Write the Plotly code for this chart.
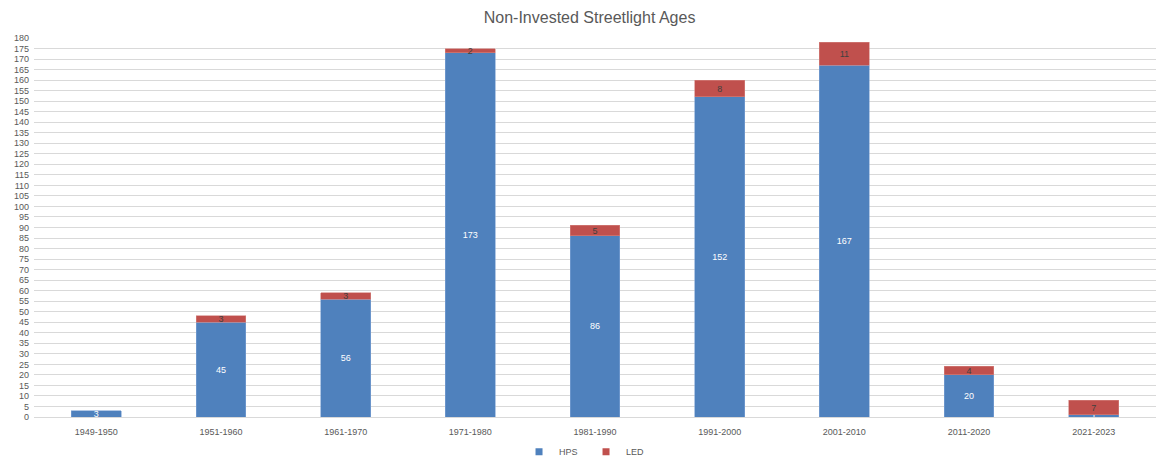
import plotly.graph_objects as go

categories = ["1949-1950", "1951-1960", "1961-1970", "1971-1980", "1981-1990",
              "1991-2000", "2001-2010", "2011-2020", "2021-2023"]
hps = [3, 45, 56, 173, 86, 152, 167, 20, 1]
led = [0, 3, 3, 2, 5, 8, 11, 4, 7]
y_ticks = list(range(0, 181, 5))

FONT = "Liberation Sans"
GRAY = "#595959"
BLUE = "#4F81BD"
RED = "#C0504D"

fig = go.Figure()
fig.add_trace(go.Bar(
    name="HPS", x=categories, y=hps, showlegend=False,
    marker=dict(color=BLUE, line=dict(color="#7FA3D4",
                                      width=[0.6 if v else 0 for v in hps])),
    text=[str(v) if v else "" for v in hps],
    textposition="inside", insidetextanchor="middle", textangle=0,
    textfont=dict(color="white", size=9, family=FONT),
    width=0.4,
))
fig.add_trace(go.Bar(
    name="LED", x=categories, y=led, showlegend=False,
    marker=dict(color=RED, line=dict(color="#D48381",
                                     width=[0.6 if v else 0 for v in led])),
    text=[str(v) if v else "" for v in led],
    textposition="inside", insidetextanchor="middle", textangle=0,
    textfont=dict(color="#404040", size=9, family=FONT),
    width=0.4,
))
# legend entries with small square swatches
for name, col in [("HPS", BLUE), ("LED", RED)]:
    fig.add_trace(go.Scatter(
        name=name, x=[None], y=[None], mode="markers",
        marker=dict(symbol="square", size=7, color=col),
        showlegend=True,
    ))

fig.update_layout(
    barmode="stack",
    width=1156, height=459,
    margin=dict(l=34, r=0, t=38, b=42, autoexpand=False),
    paper_bgcolor="white", plot_bgcolor="white",
    title=dict(text="Non-Invested Streetlight Ages", x=0.51, xanchor="center",
               y=0.963, yanchor="middle",
               font=dict(family=FONT, size=16, color=GRAY)),
    font=dict(family=FONT, size=9, color=GRAY),
    uniformtext=dict(minsize=9, mode="show"),
    showlegend=True,
    legend=dict(orientation="h", x=0.492, xanchor="center", y=-0.092, yanchor="middle",
                font=dict(size=9, color=GRAY), itemwidth=30,
                entrywidth=22, entrywidthmode="pixels",
                traceorder="normal", tracegroupgap=0),
    xaxis=dict(showgrid=False, showline=True, linecolor="#D9D9D9", linewidth=1,
               ticks="", tickfont=dict(size=9, color=GRAY), ticklabelstandoff=6,
               automargin=False),
    yaxis=dict(range=[0, 180], tickvals=y_ticks, showgrid=True, gridcolor="#D9D9D9",
               gridwidth=1, zeroline=False, ticks="", tickfont=dict(size=9, color=GRAY),
               ticklabelstandoff=4, automargin=False),
)

fig.write_html("out.html")
